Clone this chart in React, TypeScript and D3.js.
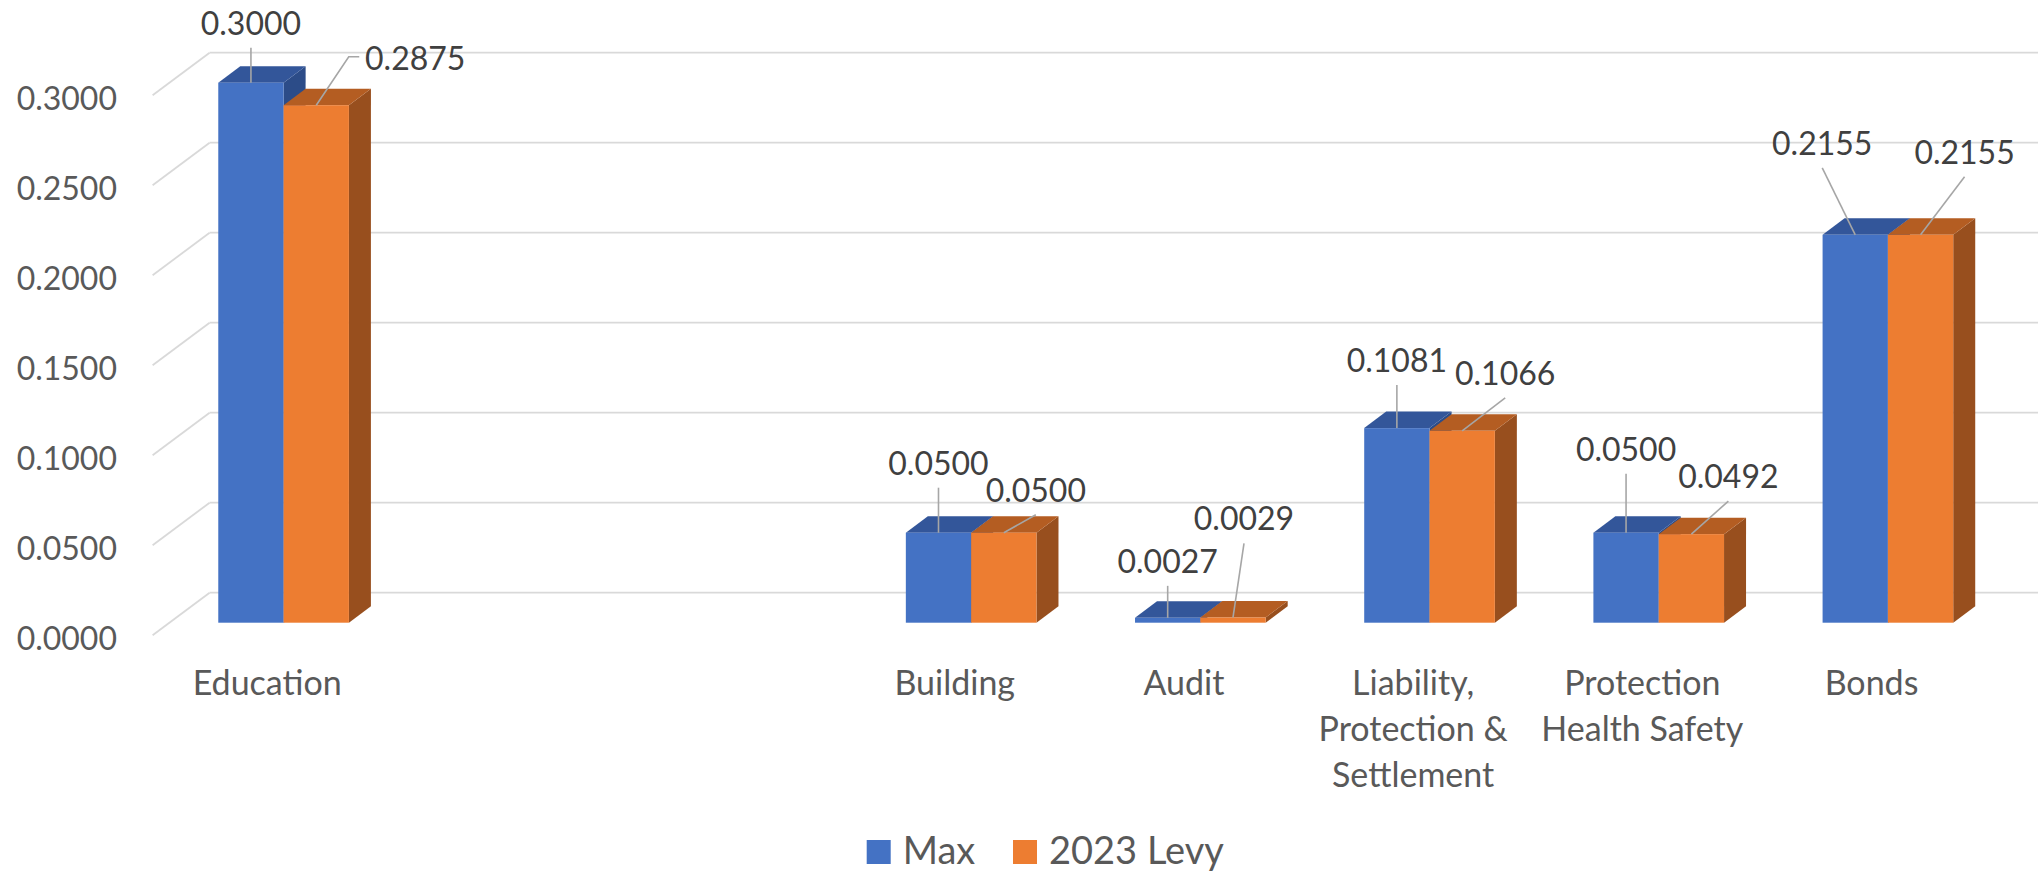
import * as d3 from "d3";

const categories = [
  "Education",
  "",
  "",
  "Building",
  "Audit",
  "Liability, Protection & Settlement",
  "Protection Health Safety",
  "Bonds",
];
// how Excel wrapped the category names under the floor
const categoryLines = [
  ["Education"],
  [],
  [],
  ["Building"],
  ["Audit"],
  ["Liability,", "Protection &", "Settlement"],
  ["Protection", "Health Safety"],
  ["Bonds"],
];
const seriesNames = ["Max", "2023 Levy"];
const maxValues = [0.3, null, null, 0.05, 0.0027, 0.1081, 0.05, 0.2155];
const levyValues = [0.2875, null, null, 0.05, 0.0029, 0.1066, 0.0492, 0.2155];
const yTicks = [0, 0.05, 0.1, 0.15, 0.2, 0.25, 0.3];

// label nudges in px from the bar's top-front centre: [dx to text centre, dy to baseline]
const maxLabelNudge = [[0, -48], null, null, [0, -58], [0, -45], [0, -56], [0, -72], [-33, -80]];
const levyLabelNudge = [[99, -35], null, null, [32, -31], [11, -87], [43, -46], [37, -46], [44, -71]];

const colors: any = {
  Max: { front: "#4472C4", top: "#33569A", side: "#2C4C88" },
  "2023 Levy": { front: "#ED7D31", top: "#B45D22", side: "#984F1E" },
};

const FONT = "Lato, 'Open Sans', sans-serif";

const App = () => {
  const width = 2040;
  const height = 874;

  const y = d3.scaleLinear().domain([0, 0.3]).range([622.7, 82.7]);
  const x = d3
    .scaleBand<number>()
    .domain(d3.range(categories.length))
    .range([169, 2002.5])
    .paddingInner(0.43)
    .paddingOuter(0.215);
  const xs = d3.scaleBand<string>().domain(seriesNames).range([0, x.bandwidth()]);

  const depth = { dx: 22, dy: -16.5 }; // bar front -> bar back
  const wall = { dx: 40.6, dy: -30 }; // bar plane -> back wall
  const floor = { dx: -16.4, dy: 12.6 }; // bar plane -> front edge of floor
  const plotLeft = x.range()[0];
  const fmt = d3.format(".4f");

  const series = [
    { name: "Max", values: maxValues, nudge: maxLabelNudge },
    { name: "2023 Levy", values: levyValues, nudge: levyLabelNudge },
  ];

  const bars: any[] = [];
  const labels: any[] = [];
  categories.forEach((c, i) => {
    series.forEach((s) => {
      const v = s.values[i];
      if (v == null) return;
      const x0 = (x(i) as number) + (xs(s.name) as number);
      const x1 = x0 + xs.bandwidth();
      const yTop = y(v);
      const yBase = y(0);
      const col = colors[s.name];
      bars.push({ key: c + s.name, x0, x1, yTop, yBase, col });

      const nd = s.nudge[i] as number[];
      const ax = (x0 + x1) / 2;
      const ay = yTop;
      const tx = ax + nd[0];
      const base = ay + nd[1];
      const half = 51 + 9;
      let pts: number[][];
      if (ax >= tx - half && ax <= tx + half) {
        pts = [[tx, base + 13], [ax, ay]];
      } else {
        const side = ax < tx ? tx - half + 4 : tx + half - 4;
        const midY = base - 13.5;
        const dir = ax < tx ? -1 : 1;
        pts = [[side, midY], [side + dir * 10.5, midY], [ax, ay]];
      }
      labels.push({ key: c + s.name, tx, base, text: fmt(v as number), pts });
    });
  });

  return (
    <svg
      width={width}
      height={height}
      style={{ position: "absolute", left: 0, top: 0, background: "#fff" }}
      fontFamily={FONT}
    >
      {/* walls: back gridlines + side wall diagonals */}
      <g stroke="#D9D9D9" strokeWidth={1.8} fill="none">
        {yTicks.map((t) => (
          <g key={t}>
            <line x1={plotLeft + wall.dx} x2={2038} y1={y(t) + wall.dy} y2={y(t) + wall.dy} />
            <line
              x1={plotLeft + floor.dx}
              y1={y(t) + floor.dy}
              x2={plotLeft + wall.dx}
              y2={y(t) + wall.dy}
            />
          </g>
        ))}
      </g>

      {/* y tick labels */}
      <g fill="#595959" fontSize={32} textAnchor="end">
        {yTicks.map((t) => (
          <text key={t} x={117} y={y(t) + floor.dy + 14.3}>
            {fmt(t)}
          </text>
        ))}
      </g>

      {/* 3D columns */}
      {bars.map((b) => (
        <g key={b.key}>
          <polygon
            fill={b.col.side}
            points={[
              [b.x1, b.yTop],
              [b.x1 + depth.dx, b.yTop + depth.dy],
              [b.x1 + depth.dx, b.yBase + depth.dy],
              [b.x1, b.yBase],
            ].join(" ")}
          />
          <polygon
            fill={b.col.top}
            points={[
              [b.x0, b.yTop],
              [b.x0 + depth.dx, b.yTop + depth.dy],
              [b.x1 + depth.dx, b.yTop + depth.dy],
              [b.x1, b.yTop],
            ].join(" ")}
          />
          <rect x={b.x0} y={b.yTop} width={b.x1 - b.x0} height={b.yBase - b.yTop} fill={b.col.front} />
        </g>
      ))}

      {/* data labels with leader lines */}
      {labels.map((l) => (
        <g key={l.key}>
          <polyline points={l.pts.join(" ")} fill="none" stroke="#A6A6A6" strokeWidth={1.6} />
          <text x={l.tx} y={l.base} textAnchor="middle" fontSize={32} fill="#404040">
            {l.text}
          </text>
        </g>
      ))}

      {/* category labels */}
      <g fill="#595959" fontSize={34} textAnchor="middle">
        {categoryLines.map((lines, i) => (
          <text key={i} x={(x(i) as number) + x.bandwidth() / 2 + floor.dx} y={695}>
            {lines.map((ln, j) => (
              <tspan key={j} x={(x(i) as number) + x.bandwidth() / 2 + floor.dx} dy={j === 0 ? 0 : 46}>
                {ln}
              </tspan>
            ))}
          </text>
        ))}
      </g>

      {/* legend */}
      <g fontSize={38} fill="#595959">
        {seriesNames.map((s, i) => {
          const lx = [866.7, 1013][i];
          return (
            <g key={s}>
              <rect x={lx} y={840} width={24} height={24} fill={colors[s].front} />
              <text x={lx + 36} y={863.5}>
                {s}
              </text>
            </g>
          );
        })}
      </g>
    </svg>
  );
};

export default App;
